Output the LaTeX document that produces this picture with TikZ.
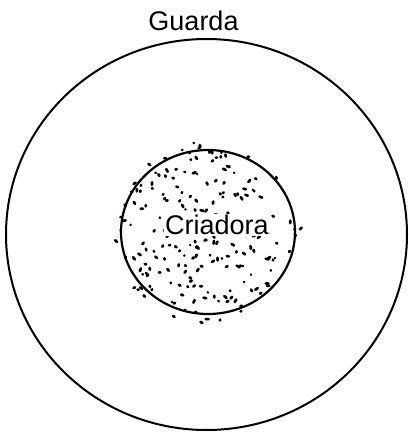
\documentclass[tikz,border=0pt]{standalone}
\usepackage{fontspec}
\setmainfont{Liberation Sans}
\usetikzlibrary{positioning,shapes.geometric}
\tikzset{
  zone/.style={draw=black,line width=2pt,ellipse,inner sep=0pt},
  zonetext/.style={inner sep=0pt,font=\fontsize{27}{32}\selectfont},
  speck/.style={line width=2.7pt,line cap=round}
}

\begin{document}
\begin{tikzpicture}[x=1pt,y=-1pt]
  \useasboundingbox (0,0) rectangle (409,432);
  \node[zone,minimum width=401pt,minimum height=391pt] (guarda) at (206.5,234.5) {};
  \node[zone,line width=2.2pt,minimum width=174pt,minimum height=164pt] (criadora) at (208,232) {};
  % specks
  \pgfmathsetseed{27}
  \foreach \i in {1,...,210}{
    \pgfmathsetmacro\ang{360*rnd}
    \pgfmathsetmacro\rad{92*sqrt(rnd)}
    \pgfmathsetmacro\tilt{360*rnd}
    \pgfmathsetmacro\len{3*rnd}
    \draw[speck,shift={(criadora.center)}] (\ang:\rad) -- ++(\tilt:\len);
  }
  \node[zonetext,above=7pt of guarda.north,xshift=-13pt] (guardatext) {Guarda};
  \node[zonetext,fill=white,inner sep=1pt,xshift=9pt,yshift=7pt] (criadoratext) at (criadora.center) {Criadora};
\end{tikzpicture}
\end{document}
